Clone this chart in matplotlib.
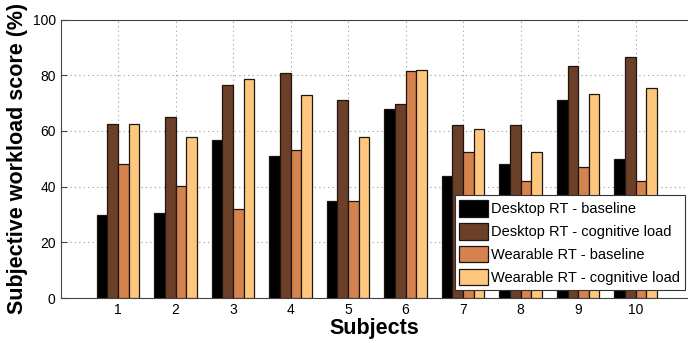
import matplotlib.pyplot as plt
import numpy as np

subjects = [1, 2, 3, 4, 5, 6, 7, 8, 9, 10]
desktop_baseline = [30.0, 30.5, 56.9, 51.0, 34.7, 67.9, 43.9, 48.0, 71.2, 50.1]
desktop_cognitive = [62.4, 65.1, 76.4, 80.9, 71.2, 69.5, 62.0, 62.2, 83.5, 86.5]
wearable_baseline = [48.0, 40.1, 31.9, 53.2, 34.7, 81.6, 52.5, 42.2, 46.9, 41.9]
wearable_cognitive = [62.4, 57.9, 78.5, 72.9, 57.9, 81.8, 60.8, 52.3, 73.1, 75.5]

labels = [
    "Desktop RT - baseline",
    "Desktop RT - cognitive load",
    "Wearable RT - baseline",
    "Wearable RT - cognitive load",
]
colors = ["#000000", "#6b3f28", "#d4834f", "#ffc77d"]

plt.rcParams["font.family"] = ["Liberation Sans", "DejaVu Sans"]

fig = plt.figure(figsize=(6.88, 3.43), dpi=100)
ax = fig.add_axes([0.088, 0.131, 0.912, 0.812])

x = np.array(subjects, dtype=float)
width = 0.185
series = [desktop_baseline, desktop_cognitive, wearable_baseline, wearable_cognitive]
for i, (vals, col, lab) in enumerate(zip(series, colors, labels)):
    ax.bar(x + (i - 1.5) * width, vals, width, color=col, edgecolor="#1e1510",
           linewidth=0.9, label=lab, zorder=3)

ax.set_xlim(0, 10.91)
ax.set_ylim(0, 100)
ax.set_xticks(subjects)
ax.set_yticks([0, 20, 40, 60, 80, 100])
ax.tick_params(direction="in", labelsize=10, length=4, color="#444444")
ax.grid(True, linestyle=(0, (1, 3)), color="#999999", linewidth=0.8, zorder=0)
for s in ["left", "bottom", "top"]:
    ax.spines[s].set_color("#444444")
ax.spines["right"].set_visible(False)

ax.set_xlabel("Subjects", fontsize=15.5, fontweight="bold", labelpad=1)
ax.set_ylabel("Subjective workload score (%)", fontsize=15.5, fontweight="bold", labelpad=3)

leg = ax.legend(loc="lower left", bbox_to_anchor=(0.661, 0.155),
                bbox_transform=fig.transFigure, fontsize=10.5, fancybox=False,
                framealpha=1, edgecolor="#333333", handlelength=1.95,
                handleheight=1.4, labelspacing=0.42, handletextpad=0.25,
                borderaxespad=0, borderpad=0.3)
leg.get_frame().set_linewidth(0.8)
leg.set_zorder(5)

fig.savefig("out.png", dpi=100)
